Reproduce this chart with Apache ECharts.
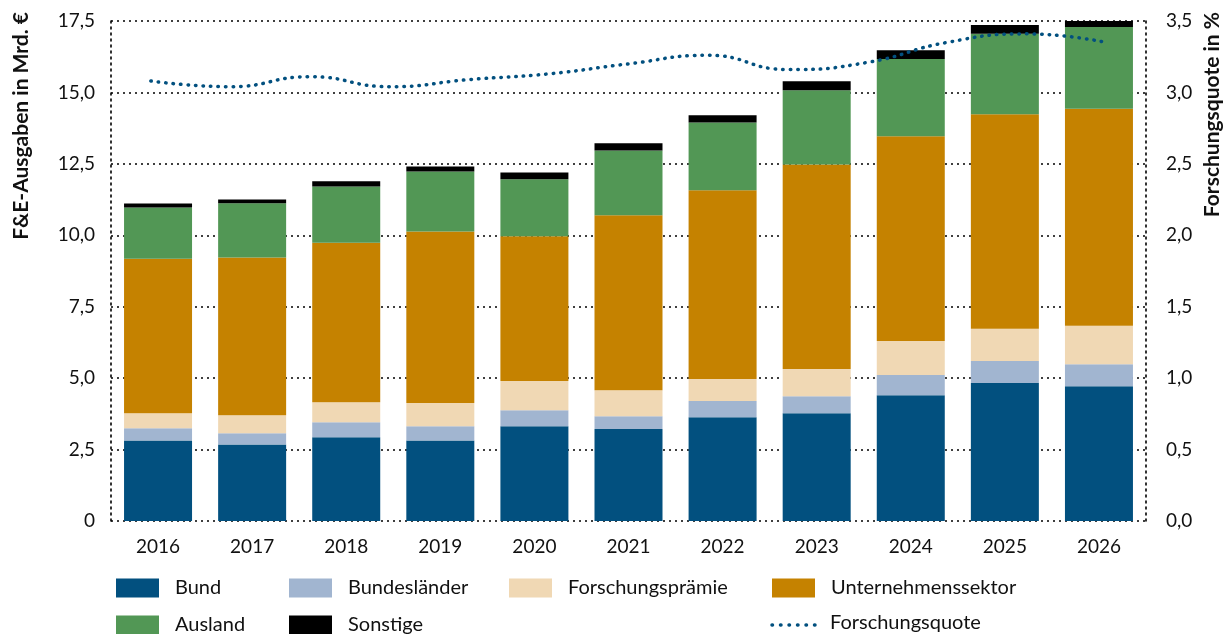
<!DOCTYPE html>
<html><head><meta charset="utf-8">
<script src="https://cdn.jsdelivr.net/npm/echarts@6/dist/echarts.min.js"></script>
<style>html,body{margin:0;padding:0;background:#fff}#c{width:1226px;height:634px}</style>
</head><body><div id="c"></div>
<script>
const years = ['2016','2017','2018','2019','2020','2021','2022','2023','2024','2025','2026'];
const bund = [2.82,2.68,2.93,2.82,3.32,3.22,3.63,3.77,4.40,4.83,4.72];
const bundeslaender = [0.43,0.39,0.53,0.50,0.56,0.45,0.57,0.60,0.71,0.77,0.77];
const praemie = [0.52,0.63,0.70,0.81,1.02,0.91,0.77,0.95,1.19,1.13,1.34];
const unternehmen = [5.41,5.52,5.58,6.00,5.07,6.12,6.61,7.16,7.17,7.51,7.60];
const ausland = [1.79,1.90,1.97,2.10,1.99,2.27,2.37,2.60,2.70,2.81,2.86];
const sonstige = [0.14,0.13,0.18,0.18,0.24,0.25,0.25,0.31,0.31,0.31,0.32];
const quoteSteps = ['1','2','3','4','5','6','7','8','9','10','11','12','13'];
const quote = [3.08,3.04,3.11,3.04,3.09,3.13,3.20,3.26,3.16,3.21,3.35,3.41,3.35];
const leftTicks = [0,2.5,5,7.5,10,12.5,15,17.5];
const rightTicks = [0,0.5,1,1.5,2,2.5,3,3.5];

const FONT = 'Lato';
const chart = echarts.init(document.getElementById('c'), null, {renderer:'canvas'});
const dotLine = {type:[2,4], color:'#000', width:1.6};
const colors = {Bund:'#02507f', 'Bundesländer':'#a1b5d0', 'Forschungsprämie':'#f0d8b4',
  'Unternehmenssektor':'#c58200', 'Ausland':'#529755', 'Sonstige':'#000000', 'Forschungsquote':'#02507f'};
function fmt(v){return v.toFixed(1).replace('.',',');}
function barSeries(name, data){
  return {name, type:'bar', stack:'a', data, barWidth:68, itemStyle:{color:colors[name]}, xAxisIndex:0, yAxisIndex:0, z:2};
}
function lg(name, left, top){
  return {data:[{name, icon:'rect', itemStyle:{color:colors[name]}}], left, top, itemWidth:43, itemHeight:19,
    padding:0,
    textStyle:{fontFamily:FONT, fontSize:20, color:'#111', padding:[0,0,0,11]}, selectedMode:false};
}
const option = {
  animation:false,
  grid:{left:111, right:80, top:21, bottom:113, containLabel:false},
  xAxis:[
    {type:'category', data:years, axisTick:{show:false}, axisLine:{show:false},
     axisLabel:{fontFamily:FONT, fontSize:19, color:'#111', margin:16}},
    {type:'category', data:quoteSteps, show:false, boundaryGap:true, position:'bottom'}
  ],
  yAxis:[
    {type:'value', min:0, max:17.5, interval:2.5, axisLine:{show:true, lineStyle:dotLine}, axisTick:{show:false},
     splitLine:{show:true, lineStyle:dotLine},
     axisLabel:{fontFamily:FONT, fontSize:19, color:'#111', margin:16, formatter:v=>v===0?'0':fmt(v)}},
    {type:'value', min:0, max:3.5, interval:0.5, position:'right', axisLine:{show:true, lineStyle:dotLine}, axisTick:{show:false},
     splitLine:{show:false},
     axisLabel:{fontFamily:FONT, fontSize:19, color:'#111', margin:20, formatter:v=>fmt(v)}}
  ],
  legend:[
    lg('Bund',116,578), lg('Bundesländer',289,578), lg('Forschungsprämie',509,578), lg('Unternehmenssektor',772,578),
    lg('Ausland',116,615), lg('Sonstige',289,615)
  ],
  graphic:[
    {type:'text', left:11, top:12, rotation:Math.PI/2, style:{text:'F&E-Ausgaben in Mrd. €', font:'bold 21px '+FONT, fill:'#111'}},
    {type:'text', right:3, top:12, rotation:Math.PI/2, style:{text:'Forschungsquote in %', font:'bold 21px '+FONT, fill:'#111'}},
    {type:'line', shape:{x1:772, y1:625, x2:816, y2:625}, style:{stroke:'#02507f', lineWidth:3.5, lineDash:[0.5,8], lineCap:'round'}},
    {type:'text', left:830, top:613, style:{text:'Forschungsquote', font:'20px '+FONT, fill:'#111'}}
  ],
  series:[
    barSeries('Bund', bund),
    barSeries('Bundesländer', bundeslaender),
    barSeries('Forschungsprämie', praemie),
    barSeries('Unternehmenssektor', unternehmen),
    barSeries('Ausland', ausland),
    barSeries('Sonstige', sonstige),
    {name:'Forschungsquote', type:'line', xAxisIndex:1, yAxisIndex:1, data:quote, smooth:0.5, symbol:'none', z:5,
     lineStyle:{color:colors.Forschungsquote, width:3.5, type:[0.5,7], cap:'round'}}
  ]
};
chart.setOption(option);
</script></body></html>
